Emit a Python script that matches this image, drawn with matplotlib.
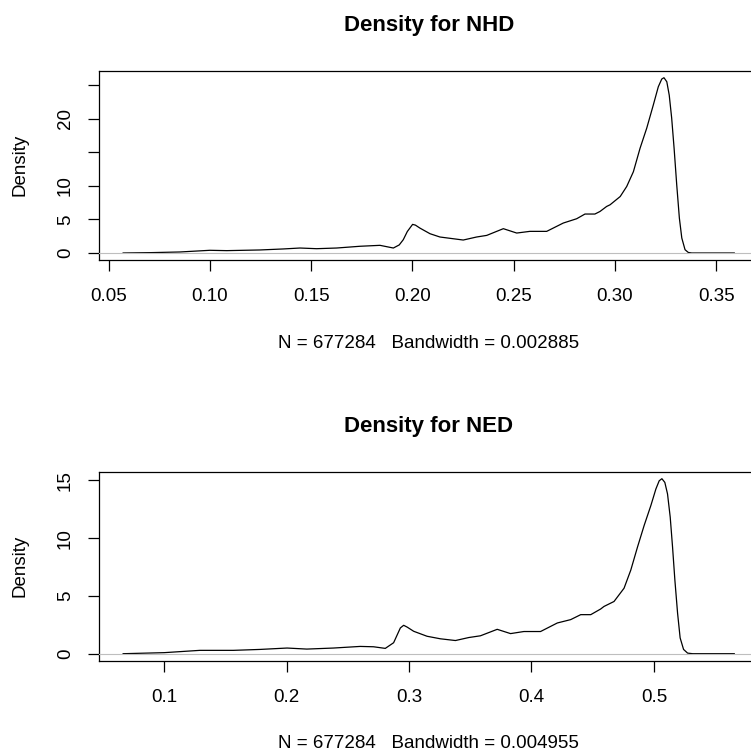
import matplotlib
matplotlib.use('Agg')
import matplotlib.pyplot as plt

plt.rcParams['font.family'] = ['Liberation Sans', 'DejaVu Sans']

# density curve for NHD
nhd_x = [0.0572, 0.0704, 0.0852, 0.1000, 0.1083, 0.1247, 0.1362, 0.1445, 0.1527,
         0.1626, 0.1741, 0.1840, 0.1906, 0.1935, 0.1955, 0.1975, 0.2001, 0.2015,
         0.2037, 0.2087, 0.2136, 0.2251, 0.2317, 0.2367, 0.2449, 0.2515, 0.2580,
         0.2663, 0.2745, 0.2811, 0.2852, 0.2901, 0.2926, 0.2959, 0.2976, 0.3026,
         0.3058, 0.3091, 0.3124, 0.3157, 0.3189, 0.3214, 0.3231, 0.3242, 0.3256,
         0.3268, 0.3280, 0.3292, 0.3305, 0.3318, 0.3330, 0.3346, 0.3362, 0.3379,
         0.3589]
nhd_y = [0.0, 0.05, 0.15, 0.40, 0.35, 0.45, 0.60, 0.74, 0.64,
         0.74, 1.00, 1.14, 0.74, 1.20, 1.98, 3.20, 4.26, 4.15,
         3.71, 2.87, 2.38, 1.93, 2.38, 2.62, 3.62, 2.97, 3.22,
         3.22, 4.46, 5.10, 5.80, 5.80, 6.18, 6.93, 7.18, 8.41,
         9.90, 12.1, 15.6, 18.6, 22.0, 24.75, 25.9, 26.1, 25.5,
         23.5, 20.1, 15.6, 10.15, 5.2, 2.23, 0.49, 0.08, 0.0,
         0.0]

# density curve for NED
ned_x = [0.0665, 0.1000, 0.1292, 0.1565, 0.1783, 0.2004, 0.2165, 0.2383, 0.2601,
         0.2710, 0.2806, 0.2874, 0.2929, 0.2956, 0.2985, 0.3038, 0.3147, 0.3256,
         0.3379, 0.3488, 0.3583, 0.3720, 0.3829, 0.3938, 0.4074, 0.4211, 0.4320,
         0.4402, 0.4484, 0.4565, 0.4592, 0.4674, 0.4756, 0.4811, 0.4866, 0.4920,
         0.4975, 0.5016, 0.5043, 0.5065, 0.5089, 0.5111, 0.5133, 0.5152, 0.5171,
         0.5193, 0.5214, 0.5242, 0.5275, 0.5316, 0.5656]
ned_y = [0.0, 0.09, 0.29, 0.29, 0.37, 0.49, 0.40, 0.49, 0.63,
         0.60, 0.46, 0.95, 2.23, 2.46, 2.30, 1.94, 1.51, 1.29,
         1.14, 1.40, 1.55, 2.11, 1.74, 1.92, 1.92, 2.66, 2.95,
         3.38, 3.38, 3.87, 4.09, 4.52, 5.67, 7.24, 9.24, 11.1,
         12.83, 14.26, 14.97, 15.15, 14.83, 13.83, 11.82, 9.24, 6.38,
         3.52, 1.37, 0.37, 0.05, 0.0, 0.0]

panels = [
    dict(x=nhd_x, y=nhd_y, title='Density for NHD',
         xlabel='N = 677284   Bandwidth = 0.002885',
         xticks=[0.05, 0.10, 0.15, 0.20, 0.25, 0.30, 0.35],
         xticklabels=['0.05', '0.10', '0.15', '0.20', '0.25', '0.30', '0.35'],
         yticks=[0, 5, 10, 15, 20, 25],
         yticklabels=['0', '5', '10', '', '20', ''],
         rect=[98.7 / 751, 492 / 752, 660 / 751, 189.3 / 752]),
    dict(x=ned_x, y=ned_y, title='Density for NED',
         xlabel='N = 677284   Bandwidth = 0.004955',
         xticks=[0.1, 0.2, 0.3, 0.4, 0.5],
         xticklabels=['0.1', '0.2', '0.3', '0.4', '0.5'],
         yticks=[0, 5, 10, 15],
         yticklabels=['0', '5', '10', '15'],
         rect=[98.7 / 751, 91.3 / 752, 660 / 751, 189 / 752]),
]

fig = plt.figure(figsize=(7.51, 7.52), dpi=100)

for p in panels:
    ax = fig.add_axes(p['rect'])
    ax.plot(p['x'], p['y'], color='black', lw=0.9)
    ax.axhline(0, color='#BEBEBE', lw=0.8, zorder=3)
    ax.margins(x=0.04, y=0.04)

    ax.set_xticks(p['xticks'])
    ax.set_xticklabels(p['xticklabels'])
    ax.set_yticks(p['yticks'])
    ax.set_yticklabels(p['yticklabels'], rotation=90, va='center')
    ax.tick_params(axis='x', length=8.1, width=0.9, pad=12.2, labelsize=13.5)
    ax.tick_params(axis='y', length=8.1, width=0.9, pad=9.6, labelsize=13.5)
    for s in ax.spines.values():
        s.set_linewidth(0.9)

    ax.set_title(p['title'], fontsize=16, fontweight='bold', pad=28.5)
    ax.set_xlabel(p['xlabel'], fontsize=13.5, va='baseline')
    ax.xaxis.set_label_coords(0.5, -87.8 / 189.3)
    ax.set_ylabel('Density', fontsize=13.5)
    ax.yaxis.set_label_coords(-0.107, 0.5)

fig.savefig('out.png', dpi=100)
